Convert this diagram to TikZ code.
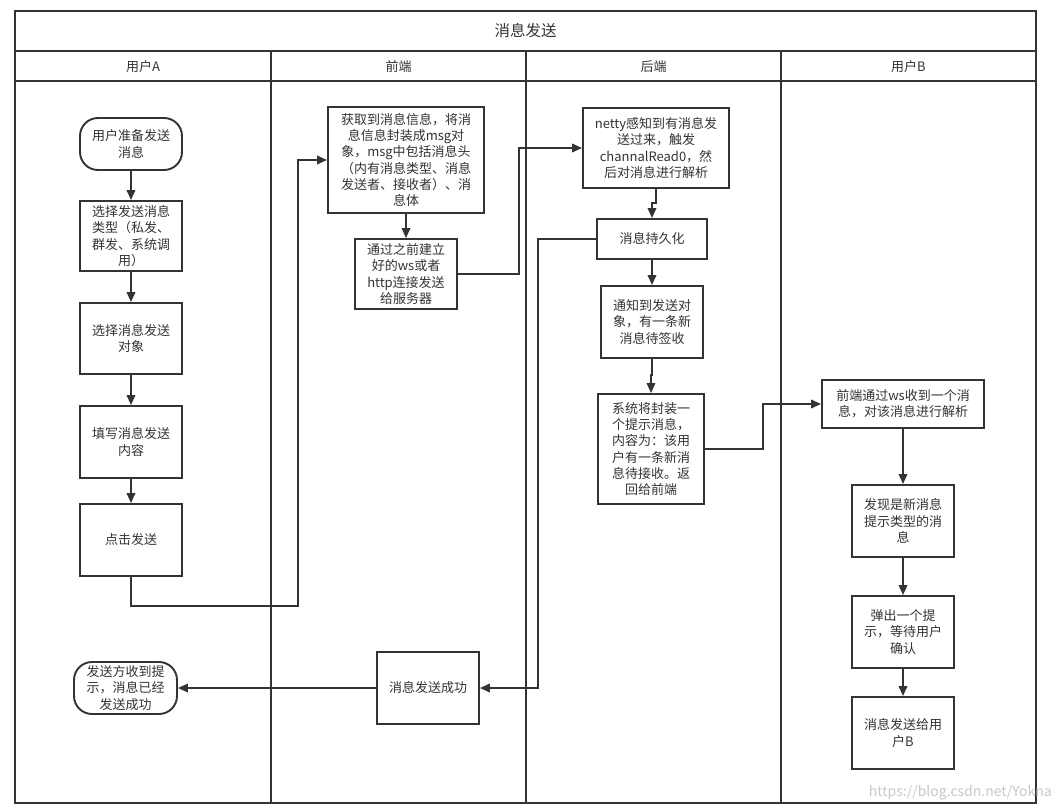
\documentclass[tikz,border=0pt]{standalone}
\usepackage{fontspec}
\setmainfont{Noto Sans CJK SC}
\usetikzlibrary{arrows.meta}
\definecolor{lc}{HTML}{333333}
\definecolor{wmc}{HTML}{C8C8C8}
\begin{document}
\begin{tikzpicture}[x=1pt,y=-1pt,
  box/.style={draw=lc, line width=1.9pt, fill=white, text=lc, align=center, inner sep=0pt,
    font=\fontsize{13}{16.3}\selectfont},
  term/.style={box, rounded corners=18pt},
  arr/.style={draw=lc, line width=1.9pt, -{Triangle[length=10pt,width=8.5pt]}},
  lane/.style={draw=lc, line width=1.9pt},
  lbl/.style={text=lc, font=\fontsize{13}{16}\selectfont},
  ttl/.style={text=lc, font=\fontsize{15.5}{18}\selectfont}]
\useasboundingbox (0,0) rectangle (1059,811);
\fill[white] (0,0) rectangle (1059,811);

% pool frame
\draw[lane] (15,11) rectangle (1036,803);
\draw[lane] (15,51) -- (1036,51);
\draw[lane] (15,81) -- (1036,81);
\draw[lane] (271,51) -- (271,803);
\draw[lane] (526,51) -- (526,803);
\draw[lane] (781,51) -- (781,803);

\node[ttl] (title) at (525.5,31) {消息发送};
\node[lbl] (hA) at (143,67) {用户A};
\node[lbl] (hF) at (398.5,67) {前端};
\node[lbl] (hB) at (653.5,67) {后端};
\node[lbl] (hU) at (908.5,67) {用户B};

% lane User A
\node[term, minimum width=102pt, minimum height=52pt] (s1) at (131,144) {用户准备发送\\消息};
\node[box, minimum width=102pt, minimum height=70pt] (a2) at (131,236) {选择发送消息\\类型（私发、\\群发、系统调\\用）};
\node[box, minimum width=102pt, minimum height=71pt] (a3) at (131,338.5) {选择消息发送\\对象};
\node[box, minimum width=102pt, minimum height=72pt] (a4) at (131,442) {填写消息发送\\内容};
\node[box, minimum width=102pt, minimum height=72pt] (a5) at (131,540) {点击发送};
\node[term, minimum width=103pt, minimum height=52pt] (aEnd) at (125.5,688) {发送方收到提\\示，消息已经\\发送成功};

% lane front end
\node[box, minimum width=156pt, minimum height=106pt] (f1) at (406,160) {获取到消息信息，将消\\息信息封装成msg对\\象，msg中包括消息头\\（内有消息类型、消息\\发送者、接收者）、消\\息体};
\node[box, minimum width=102pt, minimum height=70pt] (f2) at (406,274) {通过之前建立\\好的ws或者\\http连接发送\\给服务器};
\node[box, minimum width=102pt, minimum height=72pt] (f3) at (428,688) {消息发送成功};

% lane back end
\node[box, minimum width=146pt, minimum height=80pt] (b1) at (656,148) {netty感知到有消息发\\送过来，触发\\channalRead0，然\\后对消息进行解析};
\node[box, minimum width=110pt, minimum height=40pt] (b2) at (652,239) {消息持久化};
\node[box, minimum width=102pt, minimum height=72pt] (b3) at (652,322) {通知到发送对\\象，有一条新\\消息待签收};
\node[box, minimum width=106pt, minimum height=110pt] (b4) at (651,449) {系统将封装一\\个提示消息，\\内容为：该用\\户有一条新消\\息待接收。返\\回给前端};

% lane user B
\node[box, minimum width=162pt, minimum height=48pt] (u1) at (903,404) {前端通过ws收到一个消\\息，对该消息进行解析};
\node[box, minimum width=102pt, minimum height=72pt] (u2) at (903,521) {发现是新消息\\提示类型的消\\息};
\node[box, minimum width=102pt, minimum height=72pt] (u3) at (903,632) {弹出一个提\\示，等待用户\\确认};
\node[box, minimum width=102pt, minimum height=72pt] (u4) at (903,733) {消息发送给用\\户B};

% watermark
\node[text=wmc, font=\fontsize{14}{14}\selectfont, anchor=east, inner sep=0pt] (wm) at (1052,793) {https://blog.csdn.net/Yokna};

% helper coordinates
\coordinate (c1) at (298,606);
\coordinate (c2) at (519,148);
\coordinate (j1) at (654,203);
\coordinate (j2) at (651.5,375);
\coordinate (c3) at (763,404);
\coordinate (c4) at (538,688);

% connectors
\draw[arr] (s1) -- (a2);
\draw[arr] (a2) -- (a3);
\draw[arr] (a3) -- (a4);
\draw[arr] (a4) -- (a5);
\draw[arr] (a5.south) |- (c1) |- (f1.west);
\draw[arr] (f1) -- (f2);
\draw[arr] (f2.east) -| (c2) -- (b1.west);
\draw[arr] (b1.south) |- (j1) -| (b2.north);
\draw[arr] (b2) -- (b3);
\draw[arr] (b3.south) |- (j2) -| (b4.north);
\draw[arr] (b4.east) -| (c3) -- (u1.west);
\draw[arr] (b2.west) -| (c4) -- (f3.east);
\draw[arr] (f3) -- (aEnd);
\draw[arr] (u1) -- (u2);
\draw[arr] (u2) -- (u3);
\draw[arr] (u3) -- (u4);
\end{tikzpicture}
\end{document}
